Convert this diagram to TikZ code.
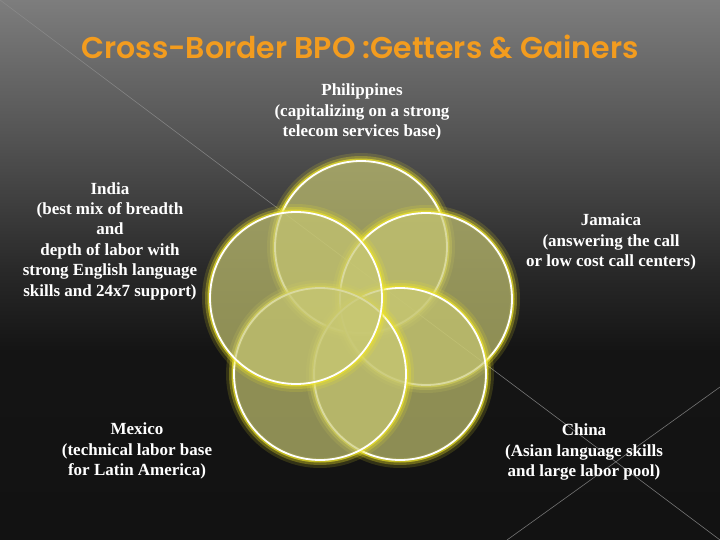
\documentclass[tikz,border=0pt]{standalone}
\usepackage{fontspec}
\setmainfont{Liberation Serif}
\newfontfamily\titlefont{Poppins}[BoldFont={* SemiBold}]
\definecolor{titleorange}{RGB}{243,156,30}
\definecolor{ringfill}{RGB}{200,200,115}
\definecolor{ringglow}{RGB}{240,230,40}
\pgfdeclareverticalshading{slidebg}{100bp}{color(0bp)=(black!93); color(25bp)=(black!93); color(42.6bp)=(black!92); color(50bp)=(black!84); color(62.5bp)=(black!67); color(75bp)=(black!51); color(100bp)=(black!51)}

\begin{document}
\begin{tikzpicture}[x=1pt,y=-1pt,
  ring/.style={circle,minimum size=172pt,inner sep=0pt,fill=ringfill,fill opacity=0.68,draw=white,line width=1.8pt},
  glowwide/.style={draw=ringglow,line width=10pt,opacity=0.15},
  glowmid/.style={draw=ringglow,line width=6pt,opacity=0.3},
  glownarrow/.style={draw=ringglow,line width=3pt,opacity=0.65},
  faintline/.style={draw=white!55!black,line width=0.6pt,opacity=0.8},
  country/.style={text=white,font=\bfseries\fontsize{17}{20.4}\selectfont,align=center},
  titletext/.style={text=titleorange,font=\titlefont\bfseries\fontsize{30}{36}\selectfont}]
\useasboundingbox (0,0) rectangle (720,540);
\shade[shading=slidebg] (0,0) rectangle (720,540);
\draw[faintline] (0,0) -- (720,540);
\draw[faintline] (507,540) -- (720,387);

\node[titletext] (title) at (360,47) {Cross-Border BPO :Getters \& Gainers};

\foreach \nm/\cx/\cy in {phil/361/247, jam/426/299, chin/400/374, mex/320/374, ind/296/298} {
  \draw[glowwide] (\cx,\cy) circle[radius=89pt];
  \draw[glowmid] (\cx,\cy) circle[radius=88pt];
  \draw[glownarrow] (\cx,\cy) circle[radius=87pt];
  \node[ring] (\nm) at (\cx,\cy) {};
}

\node[country] (philText) at (362,112) {Philippines\\(capitalizing on a strong\\telecom services base)};
\node[country] (indText) at (110,241) {India\\(best mix of breadth\\and\\depth of labor with\\strong English language\\skills and 24x7 support)};
\node[country] (jamText) at (611,242) {Jamaica\\(answering the call\\or low cost call centers)};
\node[country] (mexText) at (137,451) {Mexico\\(technical labor base\\for Latin America)};
\node[country] (chinText) at (584,452) {China\\(Asian language skills\\and large labor pool)};
\end{tikzpicture}
\end{document}
